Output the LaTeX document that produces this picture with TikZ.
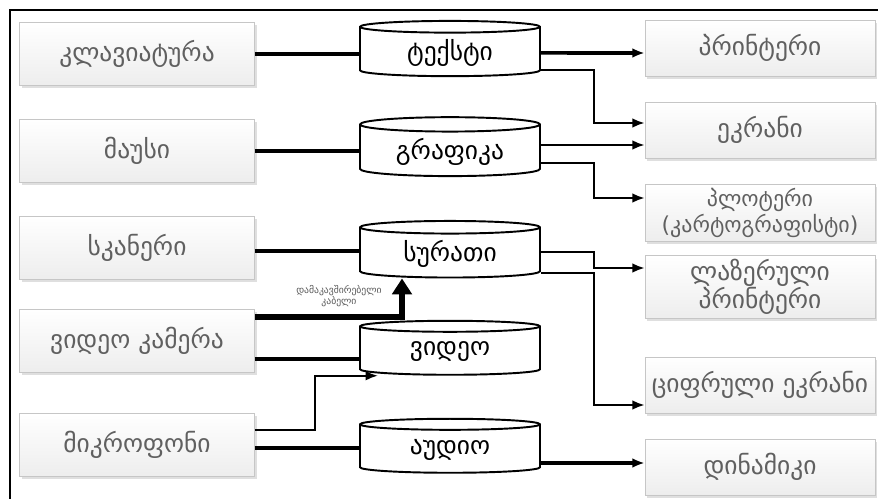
\documentclass[tikz,border=0pt]{standalone}
\usepackage{fontspec}
\setmainfont{DejaVu Sans}
\usetikzlibrary{shapes.geometric,arrows.meta,shadows,calc}

\tikzset{
  devbox/.style={draw=gray!45, top color=white, bottom color=gray!14,
    drop shadow={shadow xshift=1.2pt, shadow yshift=-1.6pt, fill=gray!50},
    text=gray!75!black, font=\fontsize{14.5}{16}\selectfont, align=center,
    inner sep=2pt},
  inbox/.style={devbox, minimum width=4.7cm, minimum height=1.26cm},
  outbox/.style={devbox, minimum width=4.6cm, minimum height=1.12cm},
  dbase/.style={cylinder, shape border rotate=90, draw, line width=1.1pt,
    aspect=0.12, minimum width=3.6cm, minimum height=1.08cm, fill=white,
    font=\fontsize{14.5}{16}\selectfont},
  thickline/.style={line width=2pt},
  thinarrow/.style={line width=1.3pt, -{Latex[length=7pt,width=5.5pt]}},
  thickarrow/.style={line width=2pt, -{Latex[length=7pt,width=5.5pt]}},
  bigarrow/.style={line width=3pt, -{Triangle[length=9pt,width=11pt]}}
}

\begin{document}
\begin{tikzpicture}[x=0.02cm,y=-0.02cm]
  \useasboundingbox (0,0) rectangle (878,499);
  \draw[line width=1.4pt] (10,499) -- (10,10) -- (878,10);   % frame

  % input devices
  \node[inbox] (kbd) at (137,54) {კლავიატურა};
  \node[inbox] (mouse) at (137,151) {მაუსი};
  \node[inbox] (scan) at (137,248) {სკანერი};
  \node[inbox] (cam) at (137,341) {ვიდეო კამერა};
  \node[inbox] (mic) at (137,445) {მიკროფონი};

  % data
  \node[dbase] (txt) at (450,53) {ტექსტი};
  \node[dbase] (gfx) at (450,152) {გრაფიკა};
  \node[dbase] (img) at (450,254) {სურათი};
  \node[dbase] (vid) at (450,352) {ვიდეო};
  \node[dbase] (aud) at (450,450) {აუდიო};

  % output devices
  \node[outbox] (prn) at (760,48) {პრინტერი};
  \node[outbox] (scr) at (760,130) {ეკრანი};
  \node[outbox, font=\fontsize{12.5}{15}\selectfont] (plt) at (760,213) {პლოტერი\\(კარტოგრაფისტი)};
  \node[outbox] (lsr) at (760,287) {ლაზერული\\პრინტერი};
  \node[outbox] (dsc) at (760,385) {ციფრული ეკრანი};
  \node[outbox] (spk) at (760,467) {დინამიკი};

  % inputs -> data
  \draw[thickline] (kbd) -- (kbd -| txt.west);
  \draw[thickline] (mouse) -- (mouse -| gfx.west);
  \draw[thickline] ($(scan.east)+(0,3)$) coordinate (s1) -- (s1 -| img.west);
  \draw[bigarrow] ($(cam.east)+(0,-24)$) -| ($(img.south)+(-48,0)$)
    node[pos=0.25, above=1pt, xshift=6pt, font=\fontsize{5.5}{6}\selectfont, align=center, text=gray!70!black] {დამაკავშირებელი\\კაბელი};
  \draw[thickline] ($(cam.east)+(0,18)$) coordinate (c1) -- (c1 -| vid.west);
  \draw[thinarrow] ($(mic.east)+(0,-15)$) -- ++(60,0) |- ($(vid.south)+(-72,0)$);
  \draw[thickline] ($(mic.east)+(0,3)$) coordinate (m1) -- (m1 -| aud.west);

  % data -> outputs
  \draw[thickarrow] (txt) -- (txt -| prn.west);
  \draw[thinarrow] ($(txt.east)+(0,17)$) -- ++(53,0) |- ($(scr.west)+(0,-7)$);
  \draw[thinarrow] ($(gfx.east)+(0,-7)$) coordinate (g1) -- (g1 -| scr.west);
  \draw[thinarrow] ($(gfx.east)+(0,11)$) -- ++(53,0) |- ($(plt.west)+(0,-15)$);
  \draw[thinarrow] ($(img.east)+(0,-2)$) -- ++(53,0) |- ($(lsr.west)+(0,-19)$);
  \draw[thinarrow] ($(img.east)+(0,19)$) -- ++(53,0) |- ($(dsc.west)+(0,20)$);
  \draw[thickarrow] ($(aud.east)+(0,13)$) coordinate (a1) -- (a1 -| spk.west);
\end{tikzpicture}
\end{document}
